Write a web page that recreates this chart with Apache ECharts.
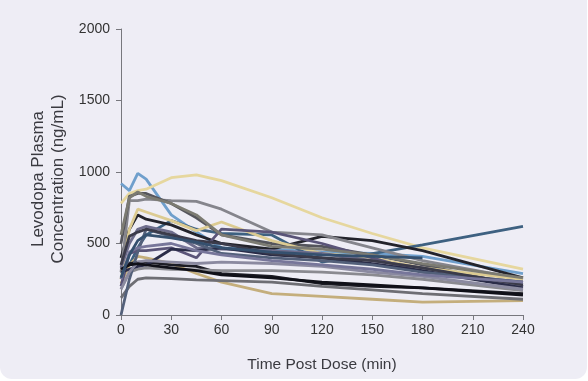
<!DOCTYPE html>
<html><head><meta charset="utf-8">
<script src="https://cdn.jsdelivr.net/npm/echarts@6/dist/echarts.min.js"></script>
<style>
html,body{margin:0;padding:0;background:#ffffff;width:588px;height:381px;overflow:hidden}
#card{position:absolute;left:0;top:0;width:587px;height:379px;background:#eeedf5;border-radius:0 0 12px 12px}
#c{position:absolute;left:0;top:0;width:588px;height:381px}
</style></head>
<body><div id="card"></div><div id="c"></div>
<script>
const times = [0, 5, 10, 15, 30, 45, 60, 90, 120, 150, 180, 240];
const yTicks = [0, 500, 1000, 1500, 2000];
const xTicks = [0, 30, 60, 90, 120, 150, 180, 210, 240];

const s01 = [920, 870, 990, 950, 700, 580, 470, 460, 440, 430, 410, 290];
const s02 = [780, 850, 870, 880, 960, 980, 940, 820, 680, 570, 470, 320];
const s03 = [290, 350, 470, 560, 660, 600, 570, 560, 370, 430, 490, 620];
const s04 = [220, 350, 410, 400, 360, 290, 230, 150, 130, 110, 90, 100];
const s05 = [330, 360, 370, 370, 350, 340, 290, 270, 220, 200, 190, 150];
const s06 = [400, 600, 700, 670, 630, 560, 500, 460, 550, 520, 450, 260];
const s07 = [300, 800, 800, 810, 800, 795, 740, 580, 560, 470, 380, 250];
const s08 = [120, 200, 250, 260, 255, 245, 240, 230, 200, 175, 150, 110];
const s09 = [180, 300, 320, 330, 320, 315, 310, 310, 300, 280, 250, 170];
const s10 = [500, 830, 850, 850, 780, 680, 560, 500, 480, 420, 350, 200];
const s11 = [250, 600, 740, 720, 660, 590, 650, 520, 430, 400, 330, 250];
const s12 = [200, 430, 450, 450, 470, 400, 600, 580, 500, 400, 300, 230];
const s13 = [330, 500, 600, 620, 580, 470, 460, 450, 430, 380, 330, 200];
const s14 = [300, 320, 340, 350, 460, 450, 470, 420, 400, 360, 310, 190];
const s15 = [0, 250, 440, 600, 550, 500, 430, 400, 380, 350, 300, 230];
const s16 = [560, 820, 860, 830, 780, 700, 560, 480, 460, 420, 360, 260];
const s17 = [180, 300, 370, 380, 370, 360, 370, 360, 340, 300, 270, 180];
const s18 = [350, 550, 580, 600, 560, 520, 500, 430, 400, 380, 330, 210];
const s19 = [250, 440, 470, 480, 500, 450, 420, 380, 350, 320, 280, 230];
const s20 = [320, 350, 360, 350, 330, 310, 280, 260, 230, 210, 190, 140];
const s21 = [260, 420, 520, 560, 540, 510, 470, 440, 420, 410, 400, null];

const seriesData = [s01,s02,s03,s04,s05,s06,s07,s08,s09,s10,s11,s12,s13,s14,s15,s16,s17,s18,s19,s20,s21];
const colors = ['#6f9fcc','#e6d79e','#3e6181','#c4ae7c','#1c1c24','#23232b','#85858c','#6e6e74','#8a8a90','#55555c',
                '#dccb92','#5a5478','#6e6d8c','#2a2c48','#53607a','#7c7b72','#8b8aa0','#3b3b4a','#77769a','#101018','#35506e'];

const font = 'Liberation Sans, Arial, sans-serif';
const chart = echarts.init(document.getElementById('c'), null, {renderer:'canvas'});
chart.setOption({
  animation:false,
  backgroundColor:'transparent',
  grid:{left:121, right:65, top:29, bottom:66},
  xAxis:{type:'value', min:0, max:240, interval:30,
    axisLine:{lineStyle:{color:'#77777d', width:1}},
    axisTick:{show:true, length:5, lineStyle:{color:'#77777d'}},
    splitLine:{show:false},
    axisLabel:{color:'#333', fontSize:14, fontFamily:font, margin:8, formatter:v=>String(v)},
    name:'Time Post Dose (min)', nameLocation:'middle', nameGap:42,
    nameTextStyle:{color:'#3a3a40', fontSize:15.5, fontFamily:font}},
  yAxis:{type:'value', min:0, max:2000, interval:500,
    axisLine:{show:true, lineStyle:{color:'#77777d', width:1}},
    axisTick:{show:true, length:5, lineStyle:{color:'#77777d'}},
    splitLine:{show:false},
    axisLabel:{color:'#333', fontSize:14, fontFamily:font, margin:11, formatter:v=>String(v)},
    name:'Levodopa Plasma\nConcentration (ng/mL)', nameLocation:'middle', nameGap:50, nameRotate:90,
    nameTextStyle:{color:'#3a3a40', fontSize:17, fontFamily:font, lineHeight:20, padding:[0,14,0,0]}},
  series: seriesData.map((d,i)=>({
    type:'line', data: times.map((t,j)=>[t,d[j]]), showSymbol:false, symbol:'none', connectNulls:false,
    lineStyle:{color:colors[i], width:2.8}, z:2
  }))
});
</script></body></html>
